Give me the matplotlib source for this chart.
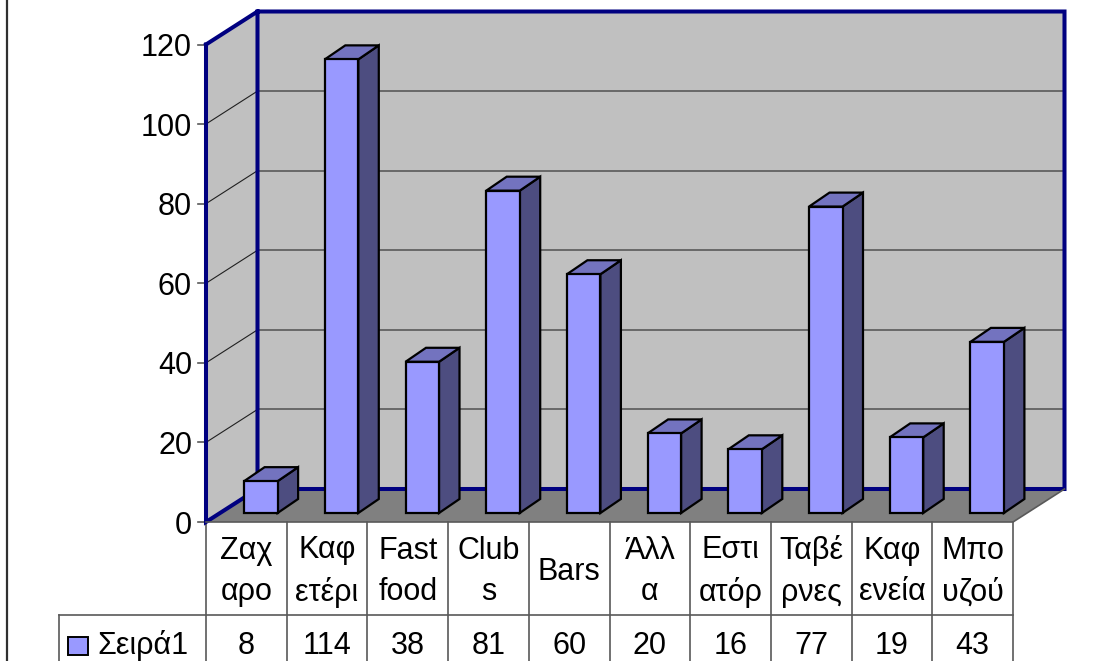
import matplotlib; matplotlib.use('Agg')
import matplotlib.pyplot as plt

plt.rcParams.update({'font.family':['Liberation Sans','DejaVu Sans']})

# values from the data table
categories = [('Ζαχ','αρο'),('Καφ','ετέρι'),('Fast','food'),('Club','s'),('Bars',),
              ('Άλλ','α'),('Εστι','ατόρ'),('Ταβέ','ρνες'),('Καφ','ενεία'),('Μπο','υζού')]
series_name = 'Σειρά1'
values = [8,114,38,81,60,20,16,77,19,43]
yticks = [0,20,40,60,80,100,120]

W, H = 1106, 661
X0, X1, Y0, Y1 = 206, 1013, 522, 44.5   # front plane of the plot, in pixels
YMAX = 120
NAVY, FRONT, TOP, SIDE = '#000080', '#9999FF', '#7373BF', '#4D4D80'

fig = plt.figure(figsize=(W/100, H/100), dpi=100)
ax = fig.add_axes([X0/W, 1-Y0/H, (X1-X0)/W, (Y0-Y1)/H])
n = len(values)
ax.set_xlim(0, n); ax.set_ylim(0, YMAX)
ax.axis('off')

ux = (X1-X0)/n          # pixels per category
uy = (Y0-Y1)/YMAX       # pixels per unit
px = lambda p: p/ux
py = lambda p: p/uy
dx, dy = px(51.5), py(33)   # depth of the box

# walls and floor
ax.fill([0,dx,dx,0], [0,dy,YMAX+dy,YMAX], fc='#C0C0C0', ec='none', clip_on=False, zorder=1)
ax.fill([dx,n+dx,n+dx,dx], [dy,dy,YMAX+dy,YMAX+dy], fc='#C0C0C0', ec='none', clip_on=False, zorder=1)
ax.fill([0,n,n+dx,dx], [0,0,dy,dy], fc='#808080', ec='none', clip_on=False, zorder=2)

# gridlines
for t in yticks[1:-1]:
    ax.plot([dx,n+dx], [t+dy,t+dy], color='#595959', lw=1.2, clip_on=False, zorder=2)
    ax.plot([0,dx], [t,t+dy], color='#202020', lw=0.8, clip_on=False, zorder=2)

# navy outline
ax.plot([0,dx,n+dx,n+dx,dx,dx], [YMAX,YMAX+dy,YMAX+dy,dy,dy,YMAX+dy], color=NAVY, lw=2.9,
        clip_on=False, zorder=3, solid_joinstyle='miter')
ax.plot([0,0,dx], [YMAX,0,dy], color=NAVY, lw=2.9, clip_on=False, zorder=3, solid_joinstyle='miter')

# bars
bw, ox, oy = px(33.5), px(14.5), py(9)
sx, sy = px(20.5), py(14)
for i, v in enumerate(values):
    l = i + 0.5 + ox - bw/2; r = l + bw; b = oy; t = oy + v
    kw = dict(ec='black', lw=1.6, clip_on=False, zorder=4, joinstyle='miter')
    ax.fill([r,r+sx,r+sx,r], [b,b+sy,t+sy,t], fc=SIDE, **kw)
    ax.fill([l,l+sx,r+sx,r], [t,t+sy,t+sy,t], fc=TOP, **kw)
    ax.fill([l,r,r,l], [b,b,t,t], fc=FRONT, **kw)

# y axis ticks and labels
for t in yticks:
    ax.plot([-px(8),0], [t,t], color='#595959', lw=1.2, clip_on=False, zorder=2)
    ax.text(-px(14), t, str(t), ha='right', va='center_baseline', fontsize=22, clip_on=False)

# data table
row1 = -py(93); row2 = -py(140); leg = -px(147)
tc = '#595959'
ax.plot([0,n,n+dx], [0,0,dy], color=tc, lw=1.2, clip_on=False, zorder=3)
ax.plot([leg,n], [row1,row1], color=tc, lw=1.2, clip_on=False)
ax.plot([leg,leg], [row1,row2], color=tc, lw=1.2, clip_on=False)
for i in range(n+1):
    ax.plot([i,i], [0,row2], color=tc, lw=1.2, clip_on=False)
for i, (cat, v) in enumerate(zip(categories, values)):
    ax.text(i+0.5, row1/2-py(3), '\n'.join(cat), ha='center', va='center', fontsize=22,
            linespacing=1.5, clip_on=False)
    ax.text(i+0.5, row1-py(27), str(v), ha='center', va='center_baseline', fontsize=22, clip_on=False)

# legend key inside the table
ax.fill([leg+px(9),leg+px(29),leg+px(29),leg+px(9)],
        [row1-py(22),row1-py(22),row1-py(40),row1-py(40)],
        fc=FRONT, ec='black', lw=1.4, clip_on=False)
ax.text(leg+px(38), row1-py(27), series_name, ha='left', va='center_baseline', fontsize=22, clip_on=False)

# chart border
fig.add_artist(plt.Line2D([7/W,7/W], [0,1], color='#303030', lw=1.6))

plt.savefig('out.png', dpi=100)
plt.close()
